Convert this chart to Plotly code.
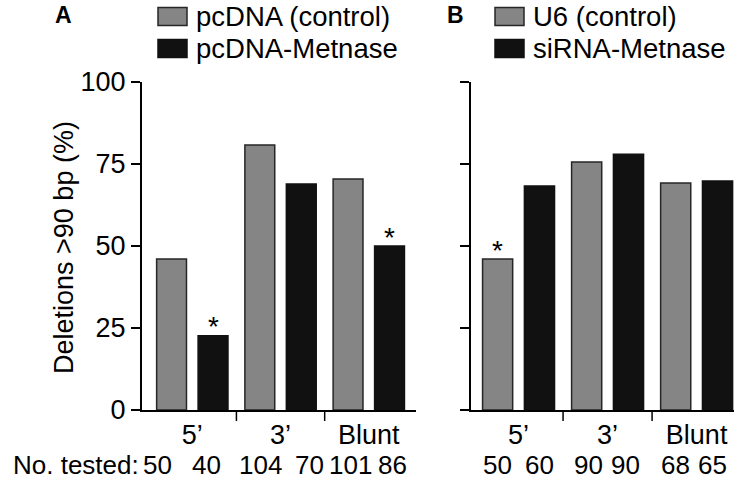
import plotly.graph_objects as go

W, H = 750, 479

# ---------------- data ----------------
categories = ["5\u2019", "3\u2019", "Blunt"]

a_series = ["pcDNA (control)", "pcDNA-Metnase"]
a_control = [46.0, 80.8, 70.4]
a_metnase = [22.6, 68.9, 50.0]
a_tested_control = [50, 104, 101]
a_tested_metnase = [40, 70, 86]
a_star_control = [False, False, False]
a_star_metnase = [True, False, True]

b_series = ["U6 (control)", "siRNA-Metnase"]
b_control = [46.0, 75.6, 69.2]
b_sirna = [68.3, 78.0, 69.8]
b_tested_control = [50, 90, 68]
b_tested_sirna = [60, 90, 65]
b_star_control = [True, False, False]
b_star_sirna = [False, False, False]

y_ticks = [0, 25, 50, 75, 100]
y_title = "Deletions >90 bp (%)"
tested_label = "No. tested:"

# ---------------- style ----------------
FONT = "Arial, Liberation Sans, Helvetica, sans-serif"
GRAY = "#858585"
BLACK = "#111111"
EDGE = "#262626"
BARGAP = 0.06
BARGROUPGAP = 0.28
SLOT_OFF = (1 - BARGAP) / 4  # offset of each bar centre from its category centre


def py(y):  # pixel row -> paper y
    return 1 - y / H


def px(x):  # pixel column -> paper x
    return x / W


fig = go.Figure()

fig.add_trace(go.Bar(x=categories, y=a_control, name=a_series[0], marker=dict(color=GRAY, line=dict(color=EDGE, width=1.5)),
                     xaxis="x", yaxis="y", showlegend=False, offsetgroup="c", hoverinfo="skip"))
fig.add_trace(go.Bar(x=categories, y=a_metnase, name=a_series[1], marker=dict(color=BLACK, line=dict(color=BLACK, width=1.5)),
                     xaxis="x", yaxis="y", showlegend=False, offsetgroup="m", hoverinfo="skip"))
fig.add_trace(go.Bar(x=categories, y=b_control, name=b_series[0], marker=dict(color=GRAY, line=dict(color=EDGE, width=1.5)),
                     xaxis="x2", yaxis="y2", showlegend=False, offsetgroup="c", hoverinfo="skip"))
fig.add_trace(go.Bar(x=categories, y=b_sirna, name=b_series[1], marker=dict(color=BLACK, line=dict(color=BLACK, width=1.5)),
                     xaxis="x2", yaxis="y2", showlegend=False, offsetgroup="m", hoverinfo="skip"))

ydom = [py(410), py(82)]
axis_common = dict(showline=True, linecolor="black", linewidth=2, showgrid=False, zeroline=False, automargin=False)

fig.update_layout(
    template="none",
    width=W, height=H,
    margin=dict(l=0, r=0, t=0, b=0, pad=0),
    paper_bgcolor="white", plot_bgcolor="white",
    showlegend=False,
    barmode="group", bargap=BARGAP, bargroupgap=BARGROUPGAP,
    font=dict(family=FONT, color="black", size=27),
    xaxis=dict(domain=[px(142), px(416)], anchor="y", type="category", range=[-0.57, 2.535],
               ticks="", tickfont=dict(size=27), ticklabelstandoff=0, **axis_common),
    yaxis=dict(domain=ydom, anchor="x", range=[0, 100], tickvals=y_ticks, ticks="outside", ticklen=9,
               tickwidth=1.5, tickcolor="black", tickfont=dict(size=27), **axis_common),
    xaxis2=dict(domain=[px(471), px(734)], anchor="y2", type="category", range=[-0.534, 2.42],
                ticks="", tickfont=dict(size=27), ticklabelstandoff=0, **axis_common),
    yaxis2=dict(domain=ydom, anchor="x2", range=[0, 100], tickvals=y_ticks, ticks="outside", ticklen=9,
                tickwidth=1.5, tickcolor="black", showticklabels=False, **axis_common),
)

shapes = []
annotations = []

# separators between categories
for xr in ["x", "x2"]:
    for b in [0.5, 1.5]:
        shapes.append(dict(type="line", xref=xr, yref="paper", x0=b, x1=b, y0=py(410), y1=py(421),
                           line=dict(color="black", width=1.5)))

# asterisks
def stars(xr, yr, vals, flags, side):
    for i, (v, f) in enumerate(zip(vals, flags)):
        if f:
            annotations.append(dict(xref=xr, yref=yr, x=i + side * SLOT_OFF, y=v, text="*", showarrow=False,
                                    xanchor="center", yanchor="middle", yshift=9, font=dict(size=28)))

stars("x", "y", a_control, a_star_control, -1)
stars("x", "y", a_metnase, a_star_metnase, 1)
stars("x2", "y2", b_control, b_star_control, -1)
stars("x2", "y2", b_sirna, b_star_sirna, 1)

# numbers tested
a_shift = [-14, -7, 1, 8, 2, 3]
b_shift = [0, 0, 2, -3, 0, -5]
def tested(xr, ctrl, other, shifts):
    k = 0
    for i in range(len(categories)):
        for side, n in ((-1, ctrl[i]), (1, other[i])):
            annotations.append(dict(xref=xr, yref="paper", x=i + side * SLOT_OFF, y=py(465), text=str(n),
                                    showarrow=False, xanchor="center", yanchor="middle", xshift=shifts[k],
                                    font=dict(size=26)))
            k += 1

tested("x", a_tested_control, a_tested_metnase, a_shift)
tested("x2", b_tested_control, b_tested_sirna, b_shift)

annotations.append(dict(xref="paper", yref="paper", x=px(141), y=py(465), text=tested_label, showarrow=False,
                        xanchor="right", yanchor="middle", font=dict(size=26)))

# y-axis title
annotations.append(dict(xref="paper", yref="paper", x=px(64), y=py(248), text=y_title, showarrow=False,
                        textangle=-90, xanchor="center", yanchor="middle", font=dict(size=27)))

# panel letters
annotations.append(dict(xref="paper", yref="paper", x=px(63), y=py(15), text="<b>A</b>", showarrow=False,
                        xanchor="center", yanchor="middle", font=dict(size=23)))
annotations.append(dict(xref="paper", yref="paper", x=px(455), y=py(15), text="<b>B</b>", showarrow=False,
                        xanchor="center", yanchor="middle", font=dict(size=23)))

# legends (drawn boxes + labels)
def legend(x0, names):
    for r, (name, col, edge) in enumerate(zip(names, [GRAY, BLACK], [EDGE, BLACK])):
        yc = 16.5 + r * 32
        shapes.append(dict(type="rect", xref="paper", yref="paper", x0=px(x0), x1=px(x0 + 29),
                           y0=py(yc - 9), y1=py(yc + 9), fillcolor=col, line=dict(color=edge, width=1.5)))
        annotations.append(dict(xref="paper", yref="paper", x=px(x0 + 36), y=py(yc), text=name, showarrow=False,
                                xanchor="left", yanchor="middle", font=dict(size=27.5)))

legend(158, a_series)
legend(495, b_series)

fig.update_layout(shapes=shapes, annotations=annotations)
fig.write_html("out.html", config={"displayModeBar": False},
               post_script="document.body.style.margin='0px';")
